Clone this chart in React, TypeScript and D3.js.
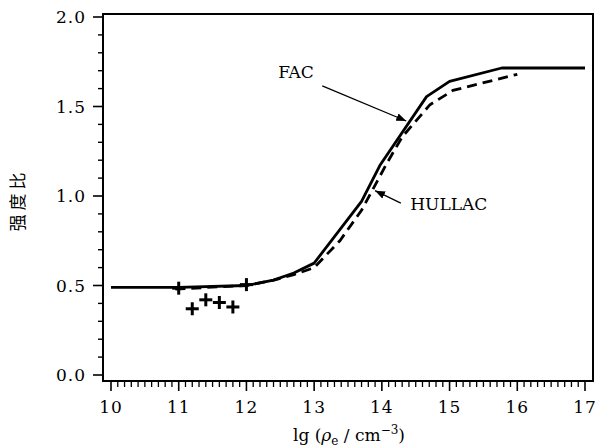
import React from 'react';
import * as d3 from 'd3';

// lg(rho_e / cm^-3) vs intensity ratio
const facX = [10, 11, 12, 12.4, 12.7, 13.0, 13.7, 13.97, 14.66, 15.0, 15.77, 17.0];
const facY = [0.49, 0.49, 0.50, 0.53, 0.57, 0.625, 0.97, 1.17, 1.555, 1.64, 1.715, 1.715];

const hullacX = [10.95, 12.0, 12.4, 12.7, 13.0, 13.38, 13.7, 14.07, 14.3, 14.71, 15.05, 16.0];
const hullacY = [0.48, 0.50, 0.53, 0.56, 0.6, 0.75, 0.92, 1.18, 1.33, 1.51, 1.59, 1.68];

const expX = [11.0, 11.2, 11.4, 11.6, 11.8, 12.0];
const expY = [0.485, 0.37, 0.42, 0.405, 0.38, 0.505];

const xTicks = [10, 11, 12, 13, 14, 15, 16, 17];
const yTicks = [0.0, 0.5, 1.0, 1.5, 2.0];

const width = 598;
const height = 447;
const xRange: [number, number] = [111, 585];
const yRange: [number, number] = [375, 17];
const frame = { left: 103, right: 593, top: 14, bottom: 381 };

const font = '"DejaVu Serif", "Liberation Serif", serif';

export default function App() {
  const x = d3.scaleLinear().domain([10, 17]).range(xRange);
  const y = d3.scaleLinear().domain([0, 2]).range(yRange);

  const line = d3
    .line<[number, number]>()
    .x((d) => x(d[0]))
    .y((d) => y(d[1]));

  const facPath = line(facX.map((v, i) => [v, facY[i]])) ?? '';
  const hullacPath = line(hullacX.map((v, i) => [v, hullacY[i]])) ?? '';

  const xMinor = d3.range(100, 171).map((v) => v / 10).filter((v) => Math.round(v * 10) % 10 !== 0);
  const yMinor = d3.range(0, 21).map((v) => v / 10).filter((v) => Math.round(v * 10) % 5 !== 0);

  return (
    <svg
      width={width}
      height={height}
      style={{ position: 'absolute', left: 0, top: 0, background: '#fff' }}
      fontFamily={font}
    >
      <defs>
        <marker id="arrow" viewBox="0 0 10 8" refX={10} refY={4} markerWidth={10} markerHeight={8} markerUnits="userSpaceOnUse" orient="auto">
          <path d="M0,0 L10,4 L0,8 Z" fill="#000" />
        </marker>
      </defs>

      {/* frame */}
      <rect
        x={frame.left}
        y={frame.top}
        width={frame.right - frame.left}
        height={frame.bottom - frame.top}
        fill="none"
        stroke="#000"
        strokeWidth={2}
      />

      {/* y ticks */}
      {yTicks.map((t) => (
        <g key={`y-${t}`}>
          <line x1={frame.left - 10} x2={frame.left} y1={y(t)} y2={y(t)} stroke="#000" strokeWidth={1.6} />
          <text x={frame.left - 17} y={y(t) + 6} fontSize={17} textAnchor="end" letterSpacing={1}>
            {t.toFixed(1)}
          </text>
        </g>
      ))}
      {yMinor.map((t) => (
        <line key={`ym-${t}`} x1={frame.left - 5} x2={frame.left} y1={y(t)} y2={y(t)} stroke="#000" strokeWidth={1.4} />
      ))}

      {/* x ticks */}
      {xTicks.map((t) => (
        <g key={`x-${t}`}>
          <line x1={x(t)} x2={x(t)} y1={frame.bottom} y2={frame.bottom + 10} stroke="#000" strokeWidth={1.6} />
          <text x={x(t)} y={frame.bottom + 32} fontSize={17} textAnchor="middle" letterSpacing={1}>
            {t}
          </text>
        </g>
      ))}
      {xMinor.map((t) => (
        <line key={`xm-${t}`} x1={x(t)} x2={x(t)} y1={frame.bottom} y2={frame.bottom + 6} stroke="#000" strokeWidth={1.3} />
      ))}

      {/* curves */}
      <path d={facPath} fill="none" stroke="#000" strokeWidth={2.8} strokeLinejoin="round" />
      <path d={hullacPath} fill="none" stroke="#000" strokeWidth={2.8} strokeDasharray="10 6" />

      {/* experiment */}
      {expX.map((v, i) => (
        <g key={`e-${i}`} stroke="#000" strokeWidth={3}>
          <line x1={x(v) - 6.5} x2={x(v) + 6.5} y1={y(expY[i])} y2={y(expY[i])} />
          <line x1={x(v)} x2={x(v)} y1={y(expY[i]) - 6.5} y2={y(expY[i]) + 6.5} />
        </g>
      ))}

      {/* annotations */}
      <text x={x(12.47)} y={y(1.69) + 6} fontSize={17}>FAC</text>
      <line x1={x(13.12)} y1={y(1.615)} x2={x(14.36)} y2={y(1.419)} stroke="#000" strokeWidth={1.3} markerEnd="url(#arrow)" />
      <text x={x(14.42)} y={y(0.92)} fontSize={17}>HULLAC</text>
      <line x1={x(14.28)} y1={y(0.96)} x2={x(13.9)} y2={y(1.03)} stroke="#000" strokeWidth={1.3} markerEnd="url(#arrow)" />

      {/* axis titles */}
      <text x={349} y={441} fontSize={17} textAnchor="middle">
        lg (<tspan fontStyle="italic">ρ</tspan>
        <tspan fontSize={12} dy={4}>e</tspan>
        <tspan dy={-4}> / cm</tspan>
        <tspan fontSize={12} dy={-7}>−3</tspan>
        <tspan dy={7}>)</tspan>
      </text>
      <text
        transform="translate(24,200) rotate(-90)"
        fontSize={17}
        textAnchor="middle"
        letterSpacing={4}
        fontFamily='"Noto Sans CJK SC", sans-serif'
      >
        强度比
      </text>
    </svg>
  );
}
